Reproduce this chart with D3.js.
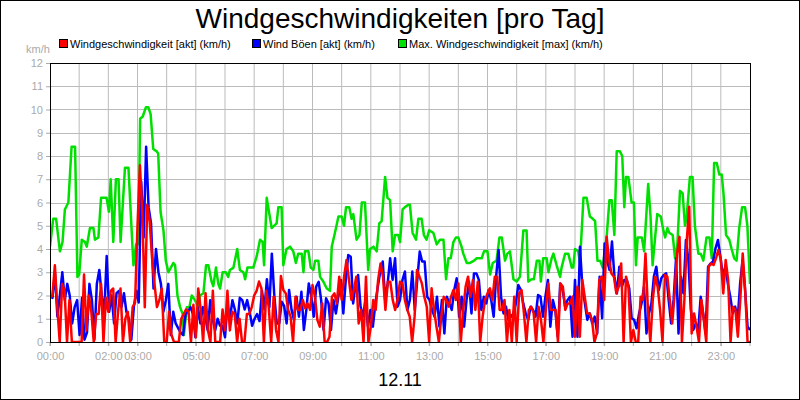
<!DOCTYPE html>
<html><head><meta charset="utf-8">
<script src="https://cdn.jsdelivr.net/npm/d3@7"></script>
<style>body{margin:0;background:#fff}svg{display:block;font-family:"Liberation Sans",Arial,sans-serif}</style>
</head><body><svg id="c" width="800" height="400"></svg>
<script>
const yTicks = [0,1,2,3,4,5,6,7,8,9,10,11,12];
const xTickHours = [0,2,3,5,7,9,11,13,15,17,19,21,23];
const xTickLabels = ["00:00","02:00","03:00","05:00","07:00","09:00","11:00","13:00","15:00","17:00","19:00","21:00","23:00"];
const seriesNames = ["Windgeschwindigkeit [akt] (km/h)","Wind Böen [akt] (km/h)","Max. Windgeschwindigkeit [max] (km/h)"];
const seriesColors = ["#ff0000","#0000ff","#00e000"];

const redValues = [1.9,2.0,3.3,1.5,0,2.5,2.2,0,1.8,0,0,0,0,0,2.9,0.5,2.0,1.3,0,1.2,1.2,2.5,0,1.9,1.3,2.2,2.3,0,1.3,2.3,0,1.0,1.3,0,1.5,1.7,5.0,7.6,5.5,1.5,5.9,5.2,3.6,2.5,1.5,1.8,2.3,0,0,1.3,0.3,0,0,0,1.0,1.2,1.4,1.3,0,1.6,0.2,2.3,1.4,0,2.1,0.5,0,2.2,0,0,0,1.4,0.5,2.2,0.5,1.3,1.2,0,1.0,0,0,1.2,1.2,1.5,2.0,2.2,2.6,2.3,0,2.2,1.5,0,
1.95,0.52,0,2.84,2.24,2.09,1.38,1.09,0,1.95,1.38,1.38,1.81,1.45,1.66,1.38,2.45,1.95,0.95,0.66,1.66,0,0,0.23,1.95,2.09,1.66,2.81,1.81,2.81,3.53,2.67,1.81,2.24,2.81,0.8,1.38,0,2.81,0,0.66,1.81,1.38,2.67,3.38,2.81,1.38,2.59,
2.59,1.81,1.38,1.81,2.59,2.52,1.81,1.38,1.09,0,1.09,3.1,2.81,2.52,1.95,1.52,0,2.31,1.38,0.66,0,1.09,1.95,1.81,1.52,1.95,2.24,1.81,2.52,0,1.38,2.38,2.81,1.95,2.67,1.38,2.59,0,1.09,1.81,2.09,2.31,1.81,2.81,2.81,1.38,1.38,1.81,0,
1.38,0,1.95,0,2.09,2.24,1.23,0,1.38,1.52,1.23,0,1.52,0.95,0,1.38,2.52,1.38,1.38,1.38,0,2.52,2.38,1.38,1.66,1.66,1.95,0.23,2.38,0.23,2.67,1.95,1.23,1.23,0.95,0,0.37,2.67,2.81,1.81,4.53,3.53,2.95,2.81,2.09,2.38,3.38,0,2.81,
2.38,0,0.52,0,0,1.95,1.81,3.81,1.38,0,1.81,2.81,2.38,1.38,0,2.88,2.81,1.81,0.8,2.09,3.81,4.53,0,1.81,4.39,5.82,0.37,1.23,0.66,0,1.81,0.95,0,3.24,3.38,3.31,3.6,3.96,3.53,2.09,3.53,2.67,0,1.52,1.38,0.23,1.81,3.81,2.24,0,0];

const blueValues = [2.0,1.9,3.0,1.1,2.0,3.0,1.8,2.5,2.0,0.8,1.5,1.8,0.3,1.9,0.1,0.4,2.5,1.8,0.1,2.5,3.1,2.0,1.2,3.7,1.3,2.0,0.8,2.1,2.2,1.5,2.1,1.3,1.0,0.1,1.5,2.2,1.7,6.9,4.5,8.4,5.8,5.1,2.3,4.0,3.0,2.5,1.3,1.8,2.5,0.3,1.3,0.8,0.6,0.4,0.3,1.2,1.3,1.5,1.2,0.2,1.5,0.8,1.5,1.1,0.5,1.8,1.0,0.5,1.0,0.7,0.7,0.2,1.6,1.0,1.8,1.4,0.8,1.9,1.8,1.4,1.8,1.3,0.7,1.0,1.2,0.9,2.2,1.4,2.7,1.5,3.8,2.0,0.8,
0.8,1.73,1.55,0.8,2.24,1.38,0.95,1.95,1.09,2.16,0.52,1.38,2.52,1.95,1.09,2.38,2.59,1.81,0.52,1.88,1.66,0.52,1.81,1.23,1.95,2.67,1.23,2.67,3.74,3.67,1.66,2.52,2.88,1.52,1.09,1.81,0.66,1.38,0.66,1.66,2.38,3.03,3.46,1.81,2.52,3.6,
2.67,3.6,1.52,1.81,2.67,3.03,1.38,1.81,3.03,1.38,2.67,3.89,3.46,3.46,1.95,1.81,1.38,1.09,1.95,0.66,1.81,0.37,1.95,1.66,1.38,2.24,2.74,1.09,1.95,0.66,1.81,2.59,1.23,2.95,2.95,2.67,1.38,1.95,1.66,2.24,1.81,1.09,2.81,3.96,1.95,1.23,1.52,0.95,
1.09,1.23,1.66,2.45,2.24,1.66,1.23,0.95,1.52,1.38,1.09,2.02,1.95,1.09,1.95,2.67,0.66,1.81,1.38,0.23,2.52,2.24,1.52,1.81,1.95,0.23,2.67,0.23,4.1,2.38,1.66,0.95,1.23,0.8,1.09,0.37,2.81,1.02,4.24,3.53,3.1,4.32,2.81,2.09,3.24,2.38,2.67,
2.67,2.31,1.02,0.95,0.59,1.23,1.66,2.38,0.37,1.23,1.66,2.81,3.24,2.24,2.74,2.88,2.95,1.81,0.8,1.81,3.6,0.37,2.81,2.09,4.39,3.53,1.38,0.52,0.8,0.52,1.95,1.23,0.37,3.24,3.38,3.46,4.03,4.39,3.67,2.81,3.24,2.52,1.95,1.23,1.52,0.95,2.52,3.53,2.24,0.66,0.52];

const greenHours = [0,0.11,0.21,0.34,0.43,0.51,0.63,0.74,0.86,0.94,1.0,1.09,1.2,1.26,1.37,1.49,1.54,1.66,1.75,1.94,2.02,2.08,2.17,2.26,2.35,2.42,2.57,2.69,2.86,2.95,3.03,3.09,3.18,3.29,3.37,3.45,3.54,3.66,3.71,3.79,3.89,3.97,4.06,4.23,4.29,4.37,4.46,4.55,4.59,4.69,4.78,4.86,4.97,5.09,5.14,5.26,5.35,5.43,5.54,5.6,5.69,5.77,5.83,5.92,6.03,6.11,6.17,6.29,6.42,6.51,6.63,6.69,6.77,6.97,7.09,7.2,7.29,7.34,7.43,
7.6,7.77,7.83,7.94,8.0,8.11,8.23,8.34,8.43,8.51,8.63,8.69,8.74,8.86,8.94,9.03,9.09,9.2,9.26,9.37,9.49,9.6,9.66,9.77,9.89,10.0,10.08,10.15,10.26,10.34,10.4,10.51,10.61,10.69,10.8,10.91,10.97,11.09,11.2,11.29,11.37,11.49,11.57,11.66,11.75,11.83,11.94,12.0,12.09,12.17,12.29,12.34,12.43,12.55,12.63,12.74,12.82,12.91,13.0,13.14,13.26,13.37,13.49,13.58,13.66,13.74,13.83,13.92,14.0,14.11,14.17,14.29,14.4,14.54,14.63,14.8,14.88,15.0,15.09,15.18,15.31,15.41,15.49,15.6,15.68,
15.77,15.89,16.0,16.11,16.23,16.34,16.4,16.51,16.59,16.69,16.78,16.83,16.91,17.03,17.09,17.2,17.26,17.37,17.49,17.54,17.66,17.77,17.89,17.94,18.0,18.11,18.17,18.29,18.4,18.51,18.61,18.69,18.77,18.86,18.95,19.09,19.18,19.26,19.35,19.43,19.54,19.62,19.69,19.75,19.83,19.94,20.02,20.09,20.15,20.29,20.37,20.51,20.59,20.66,20.82,20.94,21.03,21.09,21.17,21.23,21.35,21.43,21.51,21.6,21.69,21.77,21.83,21.94,22.03,22.11,22.23,22.31,22.4,22.51,22.61,22.69,22.77,22.86,22.95,23.03,23.09,23.18,23.29,23.37,23.46,23.54,23.63,23.73,23.83,23.91,24.0];
const greenValues = [4.1,5.3,5.3,3.9,4.3,5.7,6.0,8.4,8.4,2.8,2.9,4.4,4.3,4.1,4.9,4.9,4.4,4.5,6.2,6.2,5.6,7.0,4.3,7.0,7.0,4.3,7.5,7.5,3.3,4.2,4.2,9.6,9.7,10.1,10.1,9.8,8.3,8.2,8.1,5.6,4.8,3.5,3.0,3.4,3.3,2.0,1.5,1.2,0.3,1.5,1.5,2.0,1.8,1.5,2.0,2.1,3.3,3.3,2.6,2.4,3.2,2.5,2.3,3.0,3.0,2.8,3.1,3.2,4.0,3.1,3.0,2.7,3.2,3.2,3.7,4.4,4.3,3.3,6.2,
4.9,5.1,5.8,5.8,3.3,4.0,4.1,3.9,3.4,3.8,3.8,3.0,3.9,3.9,3.2,3.1,3.5,3.5,2.8,2.6,2.3,2.2,4.1,4.7,5.4,5.4,5.0,5.8,5.8,5.3,5.5,4.4,4.6,6.0,6.0,3.1,4.0,4.1,3.9,5.1,5.2,7.1,6.2,6.1,3.9,4.6,4.6,4.3,5.7,5.8,5.9,5.9,4.7,4.4,5.3,5.3,4.6,4.4,4.8,4.7,4.2,4.4,4.4,2.7,3.6,3.6,4.3,4.5,4.5,4.1,3.8,3.4,3.4,3.5,3.6,3.6,3.9,3.9,2.9,3.4,3.5,4.5,4.5,3.5,3.8,
3.9,2.7,2.6,2.8,4.8,4.8,2.6,2.7,2.7,3.5,3.5,2.6,3.6,3.6,3.0,3.6,3.8,3.3,2.8,3.2,3.8,3.8,3.2,3.2,4.0,3.9,3.4,6.2,6.2,5.4,5.3,5.2,3.5,3.5,3.2,4.6,6.1,6.1,4.6,8.2,8.2,8.0,5.8,7.1,7.1,6.0,6.0,3.3,4.5,4.5,3.9,6.8,5.4,3.3,5.5,5.4,4.8,4.5,4.9,4.7,4.6,3.6,4.2,6.5,6.4,5.0,5.4,7.1,7.1,5.0,3.8,3.8,3.5,4.5,4.5,3.6,7.7,7.7,7.2,7.2,6.4,4.6,4.4,4.0,3.6,3.5,4.9,5.8,5.8,5.0,2.5];

const svg = d3.select("#c");
const L=50,R=750,T=63,B=342;
const x = d3.scaleLinear().domain([0,24]).range([L,R]);
const y = d3.scaleLinear().domain([0,12]).range([B,T]);
const grey="#aaaaaa";

svg.append("rect").attr("x",0.5).attr("y",0.5).attr("width",799).attr("height",399).attr("fill","#fff").attr("stroke","#000");

// grid
const g=svg.append("g");
g.selectAll(".hg").data(d3.range(1,24)).join("line").attr("x1",d=>x(d)).attr("x2",d=>x(d)).attr("y1",T).attr("y2",B).attr("stroke","#bbb").attr("stroke-width",1);
g.selectAll(".vg").data(yTicks.slice(1,-1)).join("line").attr("y1",d=>Math.round(y(d))+0.5).attr("y2",d=>Math.round(y(d))+0.5).attr("x1",L).attr("x2",R).attr("stroke","#bbb").attr("stroke-width",1);

// axes
const ya = svg.append("g").attr("transform",`translate(${L},0)`).call(d3.axisLeft(y).tickValues(yTicks).tickSize(4).tickPadding(3));
ya.select(".domain").remove();
ya.selectAll("line").attr("stroke",grey);
ya.selectAll("text").attr("fill",grey).style("font-size","11px").style("font-family","Liberation Sans, Arial, sans-serif");
const xa = svg.append("g").attr("transform",`translate(0,${B})`).call(d3.axisBottom(x).tickValues(xTickHours).tickFormat((d,i)=>xTickLabels[i]).tickSize(4).tickPadding(6));
xa.select(".domain").remove();
xa.selectAll("line").attr("stroke",grey);
xa.selectAll("text").attr("fill",grey).style("font-size","11px").style("font-family","Liberation Sans, Arial, sans-serif");
svg.append("g").attr("transform",`translate(${L},${B})`).selectAll("line").data(d3.range(0,25)).join("line").attr("x1",d=>x(d)-L).attr("x2",d=>x(d)-L).attr("y1",0).attr("y2",4).attr("stroke",grey);

// series
const line = d3.line().x(d=>x(d[0])).y(d=>y(d[1]));
const toPairs = vals => vals.map((v,i)=>[i*24/(vals.length-1),v]);
const clipId="clp";
svg.append("clipPath").attr("id",clipId).append("rect").attr("x",L).attr("y",T).attr("width",R-L).attr("height",B-T);
const sg=svg.append("g").attr("clip-path",`url(#${clipId})`);
sg.append("path").datum(greenHours.map((h,i)=>[h,greenValues[i]])).attr("d",line).attr("fill","none").attr("stroke",seriesColors[2]).attr("stroke-width",2.5).attr("stroke-linejoin","round");
sg.append("path").datum(toPairs(blueValues)).attr("d",line).attr("fill","none").attr("stroke",seriesColors[1]).attr("stroke-width",2.5).attr("stroke-linejoin","round");
sg.append("path").datum(toPairs(redValues)).attr("d",line).attr("fill","none").attr("stroke",seriesColors[0]).attr("stroke-width",2.5).attr("stroke-linejoin","round");

svg.append("rect").attr("x",L+0.5).attr("y",T+0.5).attr("width",R-L).attr("height",B-T).attr("fill","none").attr("stroke","#000");

// title
svg.append("text").attr("x",400).attr("y",28).attr("text-anchor","middle").style("font-size","28px").attr("fill","#000").text("Windgeschwindigkeiten [pro Tag]");
svg.append("text").attr("x",400).attr("y",386).attr("text-anchor","middle").style("font-size","18px").attr("fill","#000").text("12.11");
svg.append("text").attr("x",38).attr("y",53).attr("text-anchor","middle").style("font-size","11px").attr("fill",grey).text("km/h");

// legend
const legX=[59,252,398];
const lg=svg.selectAll(".lg").data(seriesNames).join("g").attr("transform",(d,i)=>`translate(${legX[i]},39)`);
lg.append("rect").attr("width",8).attr("height",8).attr("y",0.5).attr("x",0.5).attr("fill",(d,i)=>seriesColors[i]).attr("stroke","#000");
lg.append("text").attr("x",11).attr("y",8.5).style("font-size","11px").attr("fill","#000").text(d=>d);
</script></body></html>
